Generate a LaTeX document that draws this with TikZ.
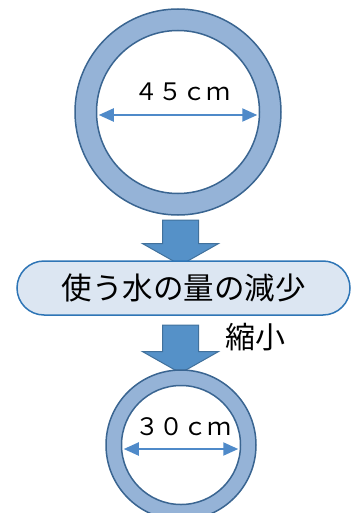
\documentclass[tikz,border=0pt]{standalone}
\usepackage{fontspec}
\setmainfont{Noto Sans CJK JP}
\usetikzlibrary{arrows.meta}
\usetikzlibrary{shapes.arrows}
\usetikzlibrary{positioning}
\usetikzlibrary{calc}
\definecolor{ringfill}{HTML}{95B3D7}
\definecolor{ringline}{HTML}{3A6591}
\definecolor{arrfill}{HTML}{5591C8}
\definecolor{arrline}{HTML}{41719C}
\definecolor{boxfill}{HTML}{DCE6F2}
\definecolor{boxline}{HTML}{2E75B6}
\definecolor{dimcol}{HTML}{4F8AC9}
\tikzstyle{outerring} = [circle, draw=ringline, fill=ringfill, line width=1.5pt, inner sep=0pt]
\tikzstyle{innerring} = [circle, draw=ringline, fill=white, line width=1.5pt, inner sep=0pt]
\tikzstyle{bigarrow} = [single arrow, draw=arrline, fill=arrfill, line width=1pt, inner xsep=0pt, inner ysep=17.5pt, single arrow head extend=20pt, single arrow tip angle=121, rotate=-90]
\tikzstyle{stepbox} = [rectangle, draw=boxline, fill=boxfill, line width=1.5pt, rounded corners=27pt, minimum width=333pt, minimum height=54pt, text centered]
\tikzstyle{dimline} = [draw=dimcol, line width=2pt, {Triangle[length=15pt, width=13pt]}-{Triangle[length=15pt, width=13pt]}]

\begin{document}
\begin{tikzpicture}[x=1pt, y=-1pt]
		\useasboundingbox (0,0) rectangle (355,513);
		\clip (0,0) rectangle (355,513);
		% ring before
		\node[outerring, minimum size=206pt] (ringA) at (178,112) {};
		\node[innerring, minimum size=163pt] (holeA) at (178,112) {};
		\coordinate (dimAl) at ($(holeA.west)+(3,3)$);
		\coordinate (dimAr) at ($(holeA.east)+(-3,3)$);
		\draw[dimline] (dimAl) -- (dimAr);
		\node[font=\fontsize{24}{26}\selectfont] (lenA) at (182,92) {４５ｃｍ};
		% arrow and reason
		\node[bigarrow, minimum height=45pt] (arrA) at (180.5,237.5) {};
		\node[stepbox, font=\fontsize{30.5}{32}\selectfont] (reason) at (183.5,288) {使う水の量の減少};
		\node[bigarrow, minimum height=48pt] (arrB) at (180.5,344) {};
		\node[font=\fontsize{30}{32}\selectfont, anchor=west] (shrink) at (222,337) {縮小};
		% ring after
		\node[outerring, minimum size=150pt] (ringB) at (181,445) {};
		\node[innerring, minimum size=119pt] (holeB) at (181,445) {};
		\coordinate (dimBl) at ($(holeB.west)+(3,4)$);
		\coordinate (dimBr) at ($(holeB.east)+(-3,4)$);
		\draw[dimline] (dimBl) -- (dimBr);
		\node[font=\fontsize{24}{26}\selectfont] (lenB) at (183,427) {３０ｃｍ};
	\end{tikzpicture}
\end{document}
